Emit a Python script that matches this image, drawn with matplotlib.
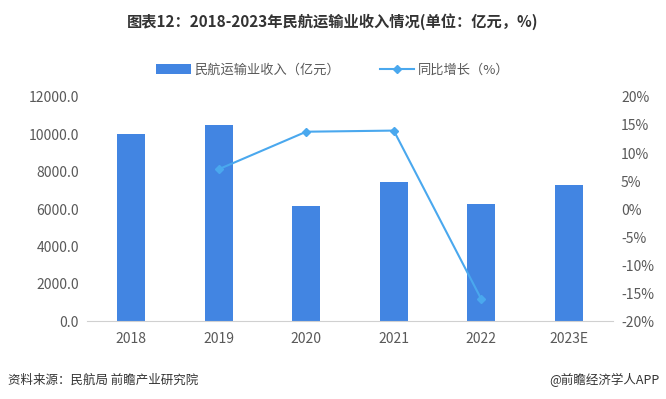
import matplotlib.pyplot as plt
import numpy as np

plt.rcParams['font.family'] = ['Noto Sans CJK SC', 'DejaVu Sans']

years = ['2018', '2019', '2020', '2021', '2022', '2023E']
revenue = [10020, 10500, 6160, 7460, 6270, 7290]
growth = [np.nan, 7.1, 13.8, 14.0, -16.1, np.nan]

bar_color = '#4285E2'
line_color = '#4AA8EE'
tick_color = '#595959'

fig = plt.figure(figsize=(6.66, 3.99), dpi=100)
ax = fig.add_axes([0.131, 0.195, 0.789, 0.562])
x = np.arange(len(years))

bars = ax.bar(x, revenue, width=0.32, color=bar_color, label='民航运输业收入（亿元）', zorder=2)
ax.set_xlim(-0.5, len(years) - 0.5)
ax.set_ylim(0, 12000)
ax.set_yticks(np.arange(0, 12001, 2000))
ax.set_yticklabels(['%.1f' % v for v in np.arange(0, 12001, 2000)])
ax.set_xticks(x)
ax.set_xticklabels(years)

ax2 = ax.twinx()
line, = ax2.plot(x, growth, color=line_color, lw=1.5, marker='D', markersize=4,
                 label='同比增长（%）', zorder=3)
ax2.set_ylim(-20, 20)
ax2.set_yticks(np.arange(-20, 21, 5))
ax2.set_yticklabels(['%d%%' % v for v in np.arange(-20, 21, 5)])

for a in (ax, ax2):
    for s in ['top', 'left', 'right', 'bottom']:
        a.spines[s].set_visible(False)
    a.tick_params(length=0, labelsize=10, colors=tick_color)
ax.spines['bottom'].set_visible(True)
ax.spines['bottom'].set_color('#D0D0D0')
ax.tick_params(axis='x', pad=8)
ax.tick_params(axis='y', pad=6)
ax2.tick_params(axis='y', pad=6)

fig.text(0.5, 0.945, '图表12：2018-2023年民航运输业收入情况(单位：亿元，%)', ha='center', va='center',
         fontsize=11, fontweight='bold', color='#333333')

fig.legend(handles=[bars, line], loc='center', bbox_to_anchor=(0.5, 0.825), ncol=2,
           frameon=False, fontsize=9.5, labelcolor=tick_color, handlelength=2.6,
           handleheight=0.8, columnspacing=3.0, handletextpad=0.3)

fig.text(0.012, 0.048, '资料来源：民航局 前瞻产业研究院', ha='left', va='center',
         fontsize=9, color='#333333')
fig.text(0.99, 0.048, '@前瞻经济学人APP', ha='right', va='center',
         fontsize=9, color='#333333')

fig.savefig('out.png', dpi=100)
